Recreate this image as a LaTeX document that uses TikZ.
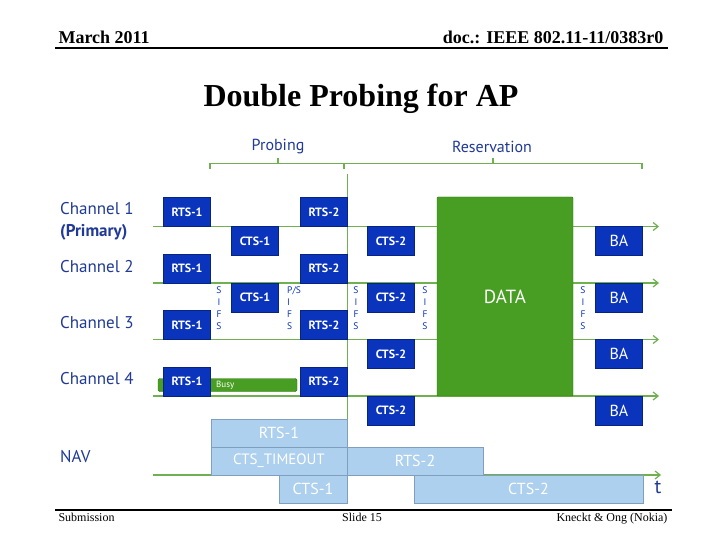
\documentclass[tikz,border=0pt]{standalone}
\usepackage{fontspec}
\setmainfont{Liberation Serif}
\newfontfamily\nsans{PT Sans}
\usetikzlibrary{arrows.meta}
\definecolor{nBlue}{RGB}{10,52,188}
\definecolor{nBlueDk}{RGB}{8,36,130}
\definecolor{lblBlue}{RGB}{32,58,150}
\definecolor{lnGreen}{RGB}{112,176,80}
\definecolor{dGreen}{RGB}{72,158,34}
\definecolor{dGreenDk}{RGB}{48,118,20}
\definecolor{navFill}{RGB}{172,208,238}
\definecolor{navEdge}{RGB}{128,158,190}
\begin{document}
\begin{tikzpicture}[
			x=1pt,y=-1pt,
			>={Straight Barb[length=5pt,width=8pt]},
			blk/.style={
				draw=nBlueDk,
				fill=nBlue,
				text=white,
				minimum width=47pt,
				minimum height=29pt,
				inner sep=0pt,
				font=\nsans\bfseries\fontsize{12}{12}\selectfont
			},
			nv/.style={
				draw=navEdge,
				fill=navFill,
				line width=1pt,
				text=white,
				minimum height=28pt,
				inner sep=0pt,
				font=\nsans\fontsize{16}{16}\selectfont
			},
			lane/.style={
				draw=lnGreen,
				line width=1.2pt,
				->
			},
			sifs/.style={
				text=nBlue,
				anchor=north,
				align=center,
				inner sep=0pt,
				font=\nsans\fontsize{9.5}{11.7}\selectfont
			},
			lbl/.style={
				text=lblBlue,
				anchor=west,
				align=left,
				inner sep=0pt,
				font=\nsans\fontsize{17}{22}\selectfont
			}
			]
			\useasboundingbox[fill=white](0,0) rectangle (720,540);
			% header and footer
			\node[anchor=base west,font=\bfseries\fontsize{18}{18}\selectfont](date) at (55,44){March 2011};
			\node[anchor=base east,font=\bfseries\fontsize{18}{18}\selectfont](doc) at (667,44){doc.: IEEE 802.11-11/0383r0};
			\draw[line width=2.5pt](55,48)--(668,48);
			\node[anchor=base,font=\bfseries\fontsize{32}{32}\selectfont](title) at (361,107){Double Probing for AP};
			\draw[line width=2.5pt](55,510)--(672,510);
			\node[anchor=base west,font=\fontsize{12}{12}\selectfont](sub) at (55,521){Submission};
			\node[anchor=base,font=\fontsize{12}{12}\selectfont](slide) at (362,521){Slide 15};
			\node[anchor=base east,font=\fontsize{12}{12}\selectfont](auth) at (671,521){Kneckt \& Ong (Nokia)};
			% phases
			\node[text=lblBlue,font=\nsans\fontsize{16}{16}\selectfont](probing) at (278,147){Probing};
			\node[text=lblBlue,font=\nsans\fontsize{16}{16}\selectfont](reserv) at (492,147){Reservation};
			\draw[lnGreen,line width=1.2pt](210,169)--(210,163.5)--(642,163.5)--(642,169);
			\draw[lnGreen,line width=1.2pt](344,163.5)--(344,169);
			\draw[lnGreen,line width=1.2pt](278,163.5)--(278,158.5);
			\draw[lnGreen,line width=1.2pt](493,163.5)--(493,158.5);
			\draw[lnGreen,line width=0.8pt](347,174)--(347,419);
			% channel labels
			\node[lbl](ch1) at (60,221.5){Channel 1\\\textbf{(Primary)}};
			\node[lbl](ch2) at (60,267){Channel 2};
			\node[lbl](ch3) at (60,323){Channel 3};
			\node[lbl](ch4) at (60,379){Channel 4};
			\node[lbl](nav) at (60,457){NAV};
			% time lines
			\coordinate(c1s) at (153,226.5);
			\coordinate(c1e) at (659,226.5);
			\coordinate(c2s) at (153,283);
			\coordinate(c2e) at (659,283);
			\coordinate(c3s) at (153,339.5);
			\coordinate(c3e) at (659,339.5);
			\coordinate(c4s) at (153,396);
			\coordinate(c4e) at (659,396);
			\coordinate(nvs) at (153,475);
			\coordinate(nve) at (661,475);
			\draw[lane](c1s)--(c1e);
			\draw[lane](c2s)--(c2e);
			\draw[lane](c3s)--(c3e);
			\draw[lane](c4s)--(c4e);
			\draw[lane](nvs)--(nve);
			\node[text=lblBlue,font=\nsans\fontsize{20}{20}\selectfont](t) at (658,487){t};
			% busy medium on channel 4
			\node[draw=dGreenDk,fill=dGreen,rounded corners=1.5pt,minimum width=139pt,minimum height=13pt,inner sep=0pt](busy) at (227.5,385){};
			\node[anchor=west,text=white,inner sep=0pt,font=\nsans\fontsize{9}{9}\selectfont](busyt) at (216,385.5){Busy};
			% frames
			\node[blk](r1a) at (187,212){RTS-1};
			\node[blk](r1b) at (187,268.5){RTS-1};
			\node[blk](r1c) at (187,325){RTS-1};
			\node[blk](r1d) at (187,381.5){RTS-1};
			\node[blk](c1a) at (255,241){CTS-1};
			\node[blk](c1b) at (255,297.5){CTS-1};
			\node[blk](r2a) at (324,212){RTS-2};
			\node[blk](r2b) at (324,268.5){RTS-2};
			\node[blk](r2c) at (324,325){RTS-2};
			\node[blk](r2d) at (324,381.5){RTS-2};
			\node[blk](c2a) at (391,241){CTS-2};
			\node[blk](c2b) at (391,297.5){CTS-2};
			\node[blk](c2c) at (391,354){CTS-2};
			\node[blk](c2d) at (391,410.5){CTS-2};
			\node[draw=dGreenDk,fill=dGreen,rounded corners=1pt,text=white,minimum width=136pt,minimum height=199pt,inner sep=0pt,font=\nsans\fontsize{19}{19}\selectfont](data) at (505,296.5){DATA};
			\node[blk,font=\nsans\fontsize{16}{16}\selectfont](baa) at (619,241){BA};
			\node[blk,font=\nsans\fontsize{16}{16}\selectfont](bab) at (619,297.5){BA};
			\node[blk,font=\nsans\fontsize{16}{16}\selectfont](bac) at (619,354){BA};
			\node[blk,font=\nsans\fontsize{16}{16}\selectfont](bad) at (619,410.5){BA};
			% interframe spaces
			\node[sifs](s1) at (219,287){S\\I\\F\\S};
			\node[sifs,anchor=north west,align=left](s2) at (287,287){P/S\\I\\F\\S};
			\node[sifs](s3) at (356,287){S\\I\\F\\S};
			\node[sifs](s4) at (425,287){S\\I\\F\\S};
			\node[sifs](s5) at (583,287){S\\I\\F\\S};
			% NAV
			\node[nv,minimum width=136pt](nr1) at (279,433){RTS-1};
			\node[nv,minimum width=136pt,font=\nsans\fontsize{15}{15}\selectfont](nto) at (279,461){CTS\_TIMEOUT};
			\node[nv,minimum width=136pt](nr2) at (415,461){RTS-2};
			\node[nv,minimum width=68pt](nc1) at (313,489){CTS-1};
			\node[nv,minimum width=229pt](nc2) at (528.5,489){CTS-2};
		\end{tikzpicture}
\end{document}
